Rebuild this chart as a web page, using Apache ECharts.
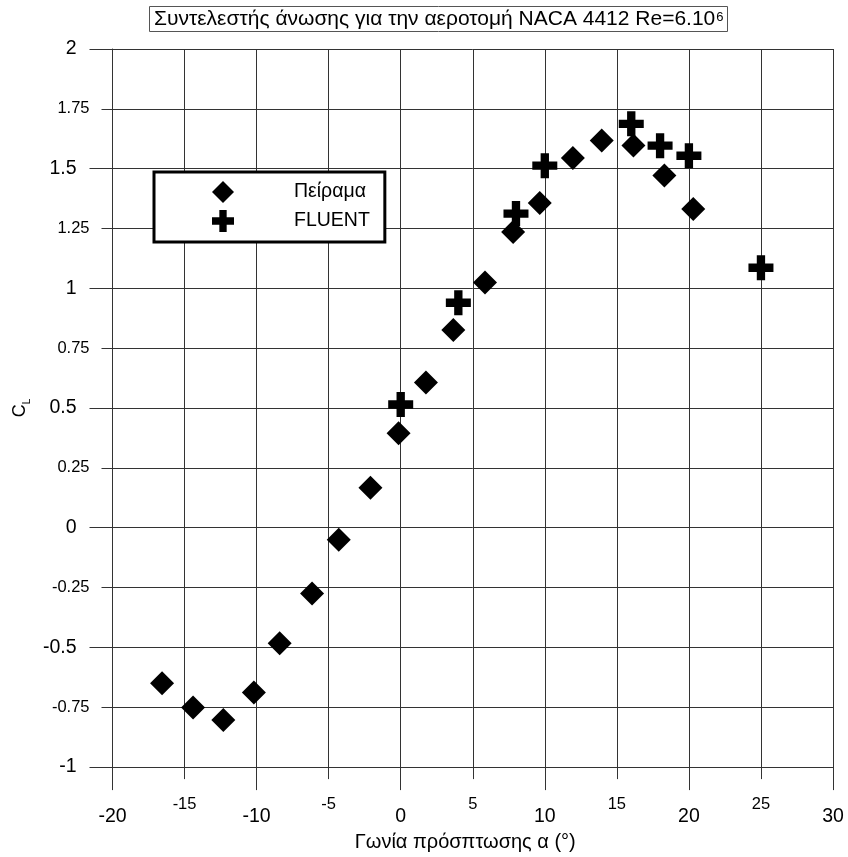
<!DOCTYPE html>
<html>
<head>
<meta charset="utf-8">
<script src="https://cdn.jsdelivr.net/npm/echarts@6/dist/echarts.min.js"></script>
<style>
html,body{margin:0;padding:0;background:#fff;}
#chart{width:848px;height:857px;}
</style>
</head>
<body>
<div id="chart"></div>
<script>
// Experimental data (Πείραμα)
var expAlpha = [-16.56, -14.41, -12.31, -10.19, -8.4, -6.15, -4.3, -2.1, -0.15, 1.75, 3.65, 5.85, 7.8, 9.65, 11.95, 13.95, 16.15, 18.3, 20.3];
var expCl    = [-0.65, -0.751, -0.803, -0.688, -0.483, -0.275, -0.05, 0.167, 0.395, 0.607, 0.826, 1.024, 1.235, 1.357, 1.545, 1.618, 1.597, 1.471, 1.332];
// CFD results (FLUENT)
var fluentAlpha = [0, 4, 8, 10, 16, 18, 20, 25];
var fluentCl    = [0.515, 0.94, 1.3125, 1.5125, 1.6875, 1.596, 1.554, 1.086];

var seriesNames = ['Πείραμα', 'FLUENT'];
var titleText = 'Συντελεστής άνωσης για την αεροτομή NACA 4412 Re=6.10';
var titleSup = '6';
var xName = 'Γωνία πρόσπτωσης α (°)';
var yNameMain = 'C';
var yNameSub = 'L';

var FONT = '"Liberation Sans", Arial, sans-serif';
var LINE = '#333333';

function pairs(xs, ys){ return xs.map(function(x,i){ return [x, ys[i]]; }); }

var plusPath = 'path://M3,0 H6 V3 H9 V6 H6 V9 H3 V6 H0 V3 H3 Z';

var chart = echarts.init(document.getElementById('chart'), null, {renderer:'canvas'});
chart.setOption({
  animation: false,
  backgroundColor: '#fff',
  textStyle: {fontFamily: FONT, color: '#000'},
  title: {
    text: '{a|' + titleText + '}{s|' + titleSup + '}',
    left: 149, top: 6,
    padding: [3, 4, 2, 5],
    borderWidth: 1, borderColor: '#555',
    textStyle: {
      fontFamily: FONT, fontWeight: 'normal',
      rich: {
        a: {fontSize: 21, lineHeight: 24, color: '#000', fontFamily: FONT, fontWeight: 'normal', verticalAlign: 'top'},
        s: {fontSize: 13, lineHeight: 13, color: '#000', fontFamily: FONT, fontWeight: 'normal', verticalAlign: 'top', padding: [2, 0, 0, 1]}
      }
    }
  },
  legend: {
    orient: 'vertical',
    left: 154, top: 172,
    padding: [9, 15, 10, 58],
    itemWidth: 22, itemHeight: 22, itemGap: 7,
    borderWidth: 3, borderColor: '#000', borderRadius: 0,
    backgroundColor: '#fff',
    data: seriesNames,
    textStyle: {fontSize: 19.5, color: '#000', fontFamily: FONT, padding: [0, 0, 0, 55]}
  },
  grid: {left: 111, right: 15, top: 49, bottom: 88, containLabel: false},
  xAxis: [
    {
      type: 'value', min: -20, max: 30, interval: 10, position: 'bottom',
      name: xName, nameLocation: 'middle', nameGap: 64,
      nameTextStyle: {fontSize: 20, color: '#000', fontFamily: FONT, padding: [0, 15, 0, 0]},
      axisLine: {show: true, onZero: false, lineStyle: {color: LINE, width: 1}},
      axisTick: {show: true, length: 23, lineStyle: {color: LINE, width: 1}},
      axisLabel: {fontSize: 19.5, color: '#000', margin: 40, fontFamily: FONT},
      splitLine: {show: false}
    },
    {
      type: 'value', min: -20, max: 30, interval: 5, position: 'bottom',
      axisLine: {show: false, onZero: false},
      axisTick: {show: true, length: 12, lineStyle: {color: LINE, width: 1}},
      axisLabel: {fontSize: 16.5, color: '#000', margin: 29, fontFamily: FONT,
        formatter: function(v){ return (Math.abs(v) % 10 === 5) ? String(v) : ''; }},
      splitLine: {show: true, lineStyle: {color: LINE, width: 1}}
    }
  ],
  yAxis: [
    {
      type: 'value', min: -1, max: 2, interval: 0.5, position: 'left',
      name: '{c|' + yNameMain + '}{l|' + yNameSub + '}', nameLocation: 'middle', nameGap: 77, nameRotate: 90,
      nameTextStyle: {
        color: '#000', fontFamily: FONT,
        rich: {
          c: {fontSize: 18, lineHeight: 18, verticalAlign: 'top', color: '#000', fontFamily: FONT},
          l: {fontSize: 10, lineHeight: 10, padding: [14, 0, 0, 0], color: '#000', fontFamily: FONT}
        }
      },
      axisLine: {show: true, onZero: false, lineStyle: {color: LINE, width: 1}},
      axisTick: {show: true, length: 23, lineStyle: {color: LINE, width: 1}},
      axisLabel: {fontSize: 19.5, color: '#000', margin: 36, fontFamily: FONT},
      splitLine: {show: false}
    },
    {
      type: 'value', min: -1, max: 2, interval: 0.25, position: 'left',
      axisLine: {show: false, onZero: false},
      axisTick: {show: true, length: 11, lineStyle: {color: LINE, width: 1}},
      axisLabel: {fontSize: 16.5, color: '#000', margin: 23, fontFamily: FONT,
        formatter: function(v){ var q = Math.round(v * 4); return (Math.abs(q) % 2 === 1) ? String(v) : ''; }},
      splitLine: {show: true, lineStyle: {color: LINE, width: 1}}
    }
  ],
  series: [
    {
      name: seriesNames[0], type: 'scatter', xAxisIndex: 0, yAxisIndex: 0,
      symbol: 'diamond', symbolSize: 24,
      itemStyle: {color: '#000', opacity: 1},
      data: pairs(expAlpha, expCl)
    },
    {
      name: seriesNames[1], type: 'scatter', xAxisIndex: 0, yAxisIndex: 0,
      symbol: plusPath, symbolSize: 25,
      itemStyle: {color: '#000', opacity: 1},
      data: pairs(fluentAlpha, fluentCl)
    }
  ]
});
</script>
</body>
</html>
